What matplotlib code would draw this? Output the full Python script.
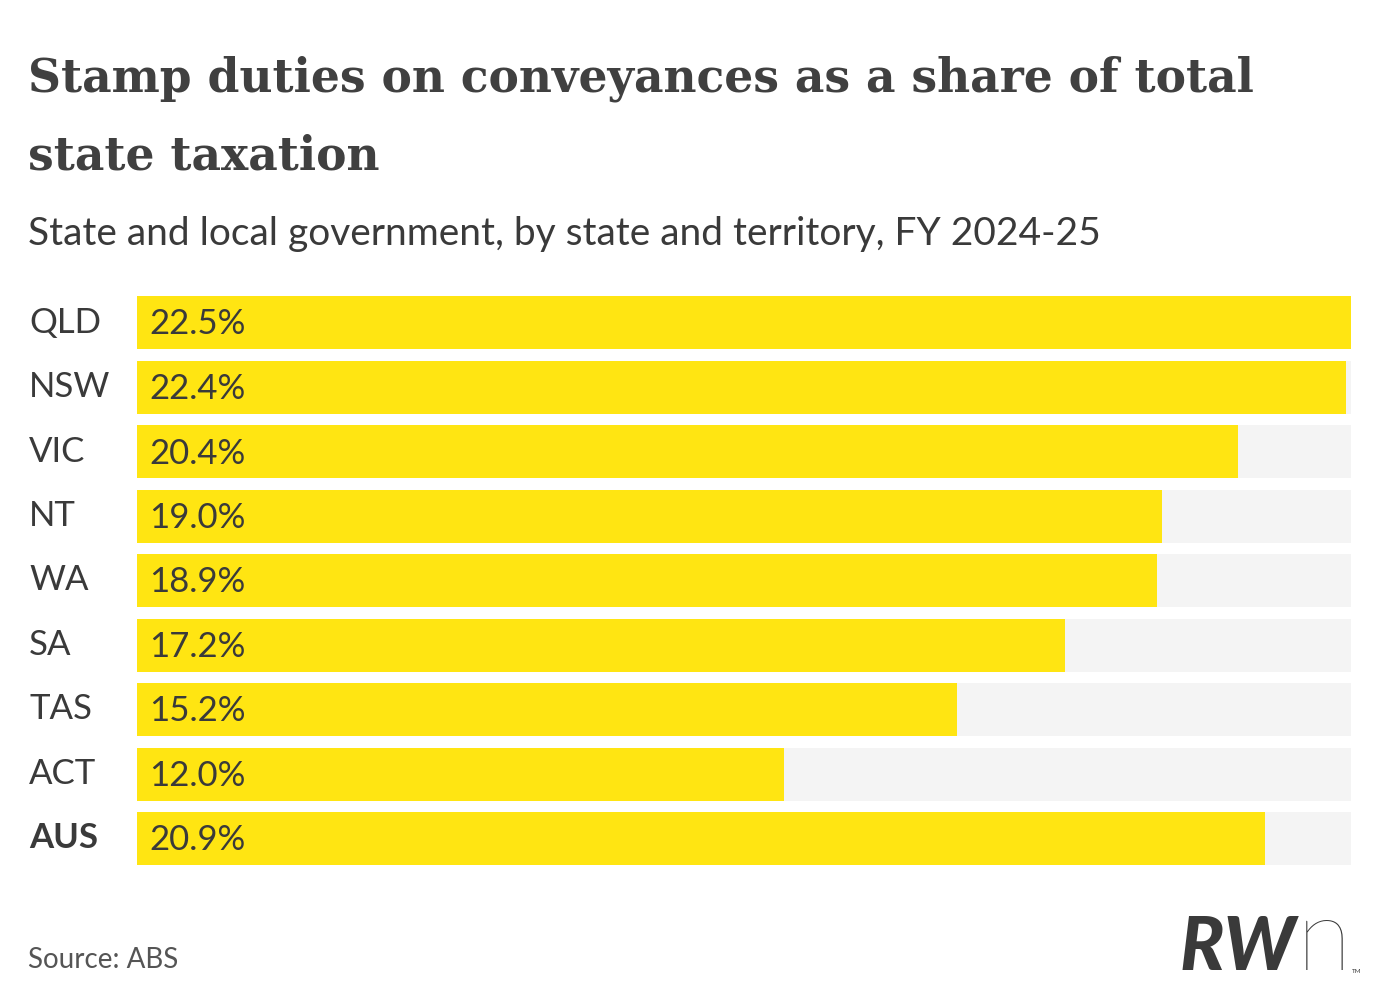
import matplotlib
matplotlib.use("Agg")
import matplotlib.pyplot as plt

categories = ["QLD", "NSW", "VIC", "NT", "WA", "SA", "TAS", "ACT", "AUS"]
values = [22.5, 22.4, 20.4, 19.0, 18.9, 17.2, 15.2, 12.0, 20.9]
value_labels = ["22.5%", "22.4%", "20.4%", "19.0%", "18.9%", "17.2%", "15.2%", "12.0%", "20.9%"]
bold_categories = ["AUS"]

title_lines = ["Stamp duties on conveyances as a share of total", "state taxation"]
subtitle = "State and local government, by state and territory, FY 2024-25"
source = "Source: ABS"

YELLOW = "#FFE512"
TRACK = "#F4F4F4"
TEXT = "#3a3a3a"

W, H = 1381, 1000
fig = plt.figure(figsize=(W / 100, H / 100), dpi=100)
fig.patch.set_facecolor("white")

ax = fig.add_axes([137 / W, 1 - 865 / H, (1351 - 137) / W, (865 - 296) / H])
xmax = max(values)
ypos = list(range(len(categories)))
bh = 53 / 64.5
ax.barh(ypos, [xmax] * len(ypos), height=bh, color=TRACK, zorder=1)
ax.barh(ypos, values, height=bh, color=YELLOW, zorder=2)
ax.set_xlim(0, xmax)
ax.set_ylim(len(categories) - 1 + bh / 2, -bh / 2)
ax.axis("off")

for y, lab in zip(ypos, value_labels):
    ax.annotate(lab, xy=(0, y), xytext=(12, -2), textcoords="offset pixels",
                ha="left", va="center", fontsize=25, color=TEXT,
                family="Lato", zorder=3)

for y, cat in zip(ypos, categories):
    ax.annotate(cat, xy=(0, y), xycoords=("figure fraction", "data"),
                xytext=(29, 0), textcoords="offset pixels",
                ha="left", va="center", fontsize=25, color=TEXT,
                family="Lato",
                fontweight="bold" if cat in bold_categories else "normal")

# Title
t1 = fig.text(28 / W, 1 - 92 / H, title_lines[0], ha="left", va="baseline",
              family="DejaVu Serif", fontweight="bold", fontsize=40, color="#404040")
t2 = fig.text(28 / W, 1 - 170 / H, title_lines[1], ha="left", va="baseline",
              family="DejaVu Serif", fontweight="bold", fontsize=40, color="#404040")
fig.canvas.draw()
r = fig.canvas.get_renderer()
w = t1.get_window_extent(r).width
fs = 40 * (1225 / w)
t1.set_fontsize(fs)
t2.set_fontsize(fs)

fig.text(28 / W, 1 - 245 / H, subtitle, ha="left", va="baseline",
         family="Lato", fontsize=28, color=TEXT)

fig.text(28 / W, 1 - 968 / H, source, ha="left", va="baseline",
         family="Lato", fontsize=20, color="#555555")

# Logo
LOGO = "#3a3a3a"
fig.text(1180 / W, 1 - 970 / H, "RW", ha="left", va="baseline", family="Lato",
         fontweight="black", style="italic", fontsize=53, color=LOGO)
fig.text(1297 / W, 1 - 970 / H, "n", ha="left", va="baseline", family="Lato",
         fontweight="light", fontsize=72, color=LOGO)
fig.text(1352 / W, 1 - 973 / H, "TM", ha="left", va="baseline", family="Lato",
         fontsize=4.5, color=LOGO)

fig.savefig("out.png", dpi=100, facecolor="white")
